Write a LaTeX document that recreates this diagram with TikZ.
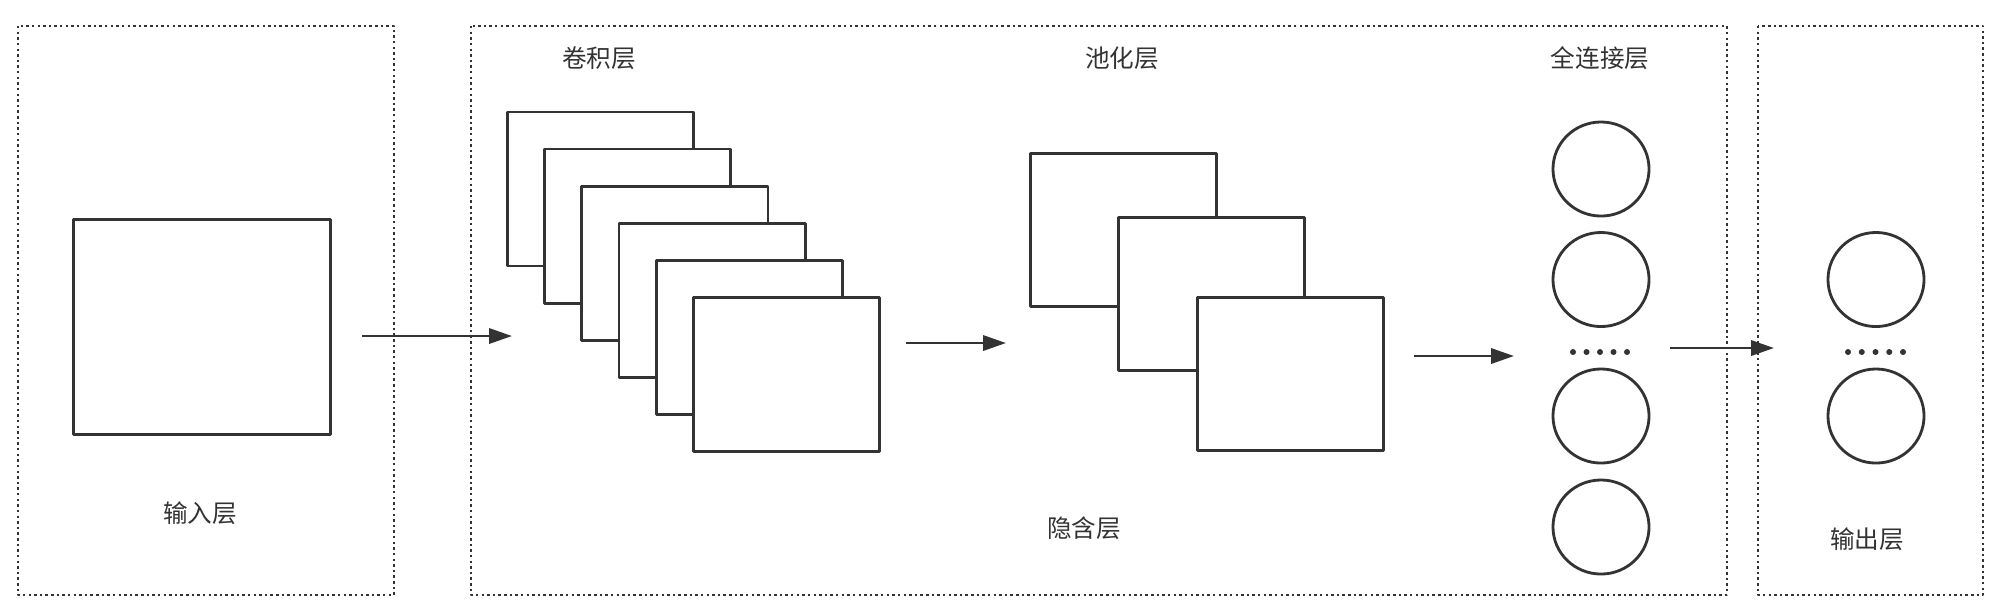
\documentclass[tikz,border=0pt]{standalone}
\usepackage{fontspec}
\setmainfont{Noto Sans CJK SC}
\usetikzlibrary{arrows.meta,shapes.geometric}
\definecolor{ink}{HTML}{333333}

\begin{document}
\begin{tikzpicture}[
  x=0.01cm, y=-0.01cm,
  line join=round,
  frame/.style={draw=ink, line width=0.8pt, dash pattern=on 0.7pt off 0.9pt},
  fmap/.style={draw=ink, fill=white, line width=0.8pt, inner sep=0pt, anchor=north west},
  unit/.style={ellipse, draw=ink, line width=0.8pt, inner sep=0pt,
    minimum width=0.96cm, minimum height=0.94cm},
  lbl/.style={text=ink, font=\fontsize{7}{8}\selectfont},
  flow/.style={draw=ink, line width=0.8pt, -{Triangle[length=6.5pt,width=4.3pt]}},
]
\useasboundingbox (0,0) rectangle (2000,614);

% the three layer frames
\draw[frame] (18,26) rectangle (394,595);
\draw[frame] (471,26) rectangle (1727,595);
\draw[frame] (1758,26) rectangle (1983,595);

% input
\node[fmap, minimum width=2.57cm, minimum height=2.15cm] (input) at (72,218) {};
\node[lbl] (inlbl) at (200,513) {输入层};

% convolution maps, back to front
\foreach \i in {0,...,5} {
  \node[fmap, minimum width=1.86cm, minimum height=1.54cm] (conv\i) at (506+37.2*\i,110.5+37.1*\i) {};
}
\node[lbl] (convlbl) at (599,58) {卷积层};

% pooling maps
\node[fmap, minimum width=1.86cm, minimum height=1.53cm] (pool0) at (1029,152) {};
\node[fmap, minimum width=1.86cm, minimum height=1.53cm] (pool1) at (1117,216) {};
\node[fmap, minimum width=1.86cm, minimum height=1.53cm] (pool2) at (1196,296) {};
\node[lbl] (poollbl) at (1122,58) {池化层};
\node[lbl] (hidlbl) at (1084,528) {隐含层};

% fully connected units
\foreach \y [count=\k] in {169,279.5,416,527} {
  \node[unit] (fc\k) at (1601,\y) {};
}
\foreach \i in {0,...,4} { \fill[ink] (1573+13.5*\i,352) circle (3); }
\node[lbl] (fclbl) at (1600,58) {全连接层};

% output units
\node[unit] (out1) at (1876,279.5) {};
\node[unit] (out2) at (1876,416) {};
\foreach \i in {0,...,4} { \fill[ink] (1848+13.75*\i,352) circle (3); }
\node[lbl] (outlbl) at (1867,539) {输出层};

% the arrows between the stages
\coordinate (a1) at (362,336);  \coordinate (b1) at (512,336);
\coordinate (a2) at (906,343);  \coordinate (b2) at (1006,343);
\coordinate (a3) at (1414,356); \coordinate (b3) at (1514,356);
\coordinate (a4) at (1670,348); \coordinate (b4) at (1774,348);
\draw[flow] (a1) -- (b1);
\draw[flow] (a2) -- (b2);
\draw[flow] (a3) -- (b3);
\draw[flow] (a4) -- (b4);

\end{tikzpicture}
\end{document}
